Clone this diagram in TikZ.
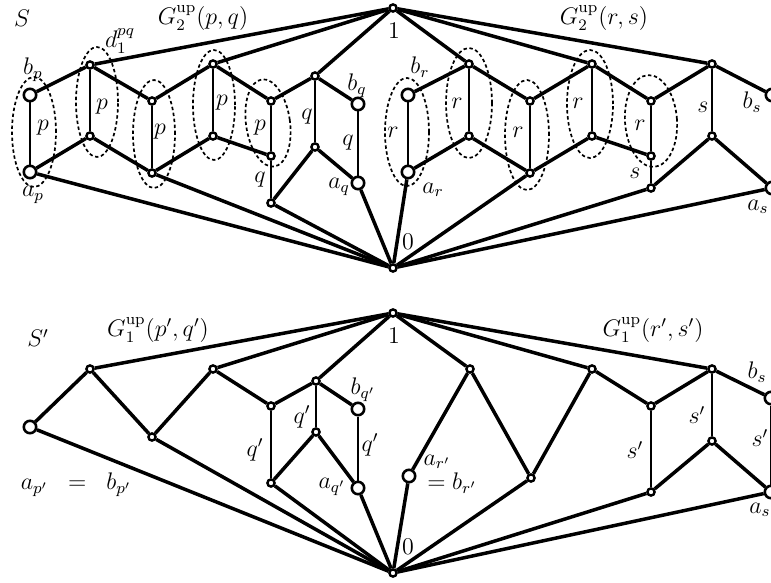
\documentclass[tikz,border=0pt]{standalone}
\usepackage{amsmath}
\begin{document}
\begin{tikzpicture}[x=0.5pt,y=-0.5pt,
  v/.style={circle,draw,fill=white,line width=1.2pt,inner sep=0pt,minimum size=3.6pt},
  V/.style={circle,draw,fill=white,line width=1.3pt,inner sep=0pt,minimum size=6.2pt},
  thk/.style={line width=1.75pt},
  thn/.style={line width=0.8pt},
  ell/.style={line width=0.85pt,dash pattern=on 1.7pt off 1.3pt},
  lab/.style={inner sep=0pt,font=\fontsize{12}{14}\selectfont}
]
\useasboundingbox (0,0) rectangle (771,583);
% ---------- dotted ellipses (top) ----------
\draw[ell] (34,132) ellipse [x radius=11pt, y radius=27.5pt];
\draw[ell] (97,102) ellipse [x radius=10.5pt, y radius=27.5pt];
\draw[ell] (154,134) ellipse [x radius=10.5pt, y radius=27pt];
\draw[ell] (214,105) ellipse [x radius=10.5pt, y radius=27.5pt];
\draw[ell,rotate around={8:(268,123)}] (268,123) ellipse [x radius=11pt, y radius=22pt];
\draw[ell] (407,132) ellipse [x radius=11pt, y radius=27pt];
\draw[ell] (469,103) ellipse [x radius=11.5pt, y radius=27.5pt];
\draw[ell] (527,135) ellipse [x radius=11pt, y radius=27.5pt];
\draw[ell] (590,104) ellipse [x radius=11.5pt, y radius=27pt];
\draw[ell,rotate around={4:(651,121)}] (651,121) ellipse [x radius=13pt, y radius=23pt];
% ---------- top vertices ----------
\node[v] (t1) at (393,8) {};
\node[v] (t0) at (393,268) {};
\node[V] (bp) at (30,95) {};
\node[V] (ap) at (30,172) {};
\node[v] (d1) at (90,65) {};
\node[v] (p1b) at (90,136) {};
\node[v] (p2t) at (152,101) {};
\node[v] (p2b) at (152,173) {};
\node[v] (p3t) at (213,64) {};
\node[v] (p3b) at (213,136) {};
\node[v] (p4t) at (271,101) {};
\node[v] (p4b) at (271,156) {};
\node[v] (q1) at (271,203) {};
\node[v] (qt) at (315,76) {};
\node[v] (qb) at (315,147) {};
\node[V] (bq) at (358,104) {};
\node[V] (aq) at (358,183) {};
\node[V] (br) at (408,95) {};
\node[V] (ar) at (408,172) {};
\node[v] (r2t) at (469,64) {};
\node[v] (r2b) at (469,136) {};
\node[v] (r3t) at (530,101) {};
\node[v] (r3b) at (530,173) {};
\node[v] (r4t) at (592,64) {};
\node[v] (r4b) at (592,136) {};
\node[v] (r5t) at (651,101) {};
\node[v] (r5b) at (651,156) {};
\node[v] (s1) at (651,188) {};
\node[v] (st) at (712,64) {};
\node[v] (sb) at (712,136) {};
\node[V] (bsT) at (772,95) {};
\node[V] (asT) at (772,188) {};
% top edges
\draw[thk] (bp) -- (d1) -- (p2t) -- (p3t) -- (p4t) -- (qt) -- (bq);
\draw[thk] (ap) -- (p1b) -- (p2b) -- (p3b) -- (p4b);
\draw[thk] (qt) -- (t1);
\draw[thk] (d1) -- (t1);
\draw[thk] (p3t) -- (t1);
\draw[thk] (qb) -- (aq);
\draw[thk] (qb) -- (q1);
\draw[thk] (ap) -- (t0);
\draw[thk] (p2b) -- (t0);
\draw[thk] (q1) -- (t0);
\draw[thk] (aq) -- (t0);
\draw[thn] (bp) -- (ap);
\draw[thn] (d1) -- (p1b);
\draw[thn] (p2t) -- (p2b);
\draw[thn] (p3t) -- (p3b);
\draw[thn] (p4t) -- (p4b);
\draw[thn] (p4b) -- (q1);
\draw[thn] (qt) -- (qb);
\draw[thn] (bq) -- (aq);
\draw[thk] (t1) -- (r2t);
\draw[thk] (br) -- (r2t) -- (r3t) -- (r4t) -- (r5t) -- (st) -- (bsT);
\draw[thk] (ar) -- (r2b) -- (r3b) -- (r4b) -- (r5b);
\draw[thk] (r4t) -- (t1);
\draw[thk] (st) -- (t1);
\draw[thk] (sb) -- (s1);
\draw[thk] (sb) -- (asT);
\draw[thk] (ar) -- (t0);
\draw[thk] (r3b) -- (t0);
\draw[thk] (s1) -- (t0);
\draw[thk] (asT) -- (t0);
\draw[thn] (br) -- (ar);
\draw[thn] (r2t) -- (r2b);
\draw[thn] (r3t) -- (r3b);
\draw[thn] (r4t) -- (r4b);
\draw[thn] (r5t) -- (r5b);
\draw[thn] (r5b) -- (s1);
\draw[thn] (st) -- (sb);
\draw[thn] (bsT) -- (asT);
% top labels
\node[lab] (lS) at (22,18) {$S$};
\node[lab] (lG1) at (203,18) {$G_2^{\mathrm{up}}(p,q)$};
\node[lab] (lG2) at (604,18) {$G_2^{\mathrm{up}}(r,s)$};
\node[lab] (l1) at (394,31) {$1$};
\node[lab] (l0) at (408,242) {$0$};
\node[lab] (ld) at (120,41) {$d_1^{pq}$};
\node[lab] (lbp) at (33,70) {$b_p$};
\node[lab] (lap) at (33,195) {$a_p$};
\node[lab] (lbq) at (357,86) {$b_q$};
\node[lab] (laq) at (339,187) {$a_q$};
\node[lab] (lbr) at (420,67) {$b_r$};
\node[lab] (lar) at (433,190) {$a_r$};
\node[lab] (lbs) at (752,102) {$b_s$};
\node[lab] (las) at (758,207) {$a_s$};
\node[lab] at (43,128) {$p$};
\node[lab] at (102,107) {$p$};
\node[lab] at (160,132) {$p$};
\node[lab] at (222,103) {$p$};
\node[lab] at (260,128) {$p$};
\node[lab] at (260,180) {$q$};
\node[lab] at (307,117) {$q$};
\node[lab] at (348,143) {$q$};
\node[lab] at (393,132) {$r$};
\node[lab] at (457,103) {$r$};
\node[lab] at (518,132) {$r$};
\node[lab] at (578,103) {$r$};
\node[lab] at (640,125) {$r$};
\node[lab] at (635,173) {$s$};
\node[lab] at (703,107) {$s$};
% ---------- bottom vertices ----------
\node[v] (B1) at (393,313) {};
\node[v] (B0) at (393,573) {};
\node[V] (apb) at (30,427) {};
\node[v] (u1) at (90,369) {};
\node[v] (u2) at (152,437) {};
\node[v] (u3) at (213,369) {};
\node[v] (u4t) at (271,406) {};
\node[v] (u4b) at (271,483) {};
\node[v] (vt) at (316,381) {};
\node[v] (vb) at (316,432) {};
\node[V] (bqp) at (358,409) {};
\node[V] (aqp) at (358,488) {};
\node[V] (arp) at (409,476) {};
\node[v] (w1) at (470,369) {};
\node[v] (w2) at (531,478) {};
\node[v] (w3) at (592,369) {};
\node[v] (x4t) at (651,406) {};
\node[v] (x4b) at (651,492) {};
\node[v] (yt) at (712,369) {};
\node[v] (yb) at (712,441) {};
\node[V] (bsB) at (771,398) {};
\node[V] (asB) at (771,492) {};
% bottom edges
\draw[thk] (apb) -- (u1) -- (u2) -- (u3) -- (u4t) -- (vt) -- (bqp);
\draw[thk] (u1) -- (B1);
\draw[thk] (u3) -- (B1);
\draw[thk] (vt) -- (B1);
\draw[thk] (vb) -- (u4b);
\draw[thk] (vb) -- (aqp);
\draw[thk] (apb) -- (B0);
\draw[thk] (u2) -- (B0);
\draw[thk] (u4b) -- (B0);
\draw[thk] (aqp) -- (B0);
\draw[thn] (u4t) -- (u4b);
\draw[thn] (vt) -- (vb);
\draw[thn] (bqp) -- (aqp);
\draw[thk] (B0) -- (arp) -- (w1) -- (B1);
\draw[thk] (w1) -- (w2) -- (w3) -- (B1);
\draw[thk] (w2) -- (B0);
\draw[thk] (w3) -- (x4t) -- (yt) -- (bsB);
\draw[thk] (yt) -- (B1);
\draw[thk] (yb) -- (x4b);
\draw[thk] (yb) -- (asB);
\draw[thk] (x4b) -- (B0);
\draw[thk] (asB) -- (B0);
\draw[thn] (x4t) -- (x4b);
\draw[thn] (yt) -- (yb);
\draw[thn] (bsB) -- (asB);
% bottom labels
\node[lab] (lS2) at (38,338) {$S'$};
\node[lab] (lG3) at (158,330) {$G_1^{\mathrm{up}}(p',q')$};
\node[lab] (lG4) at (653,330) {$G_1^{\mathrm{up}}(r',s')$};
\node[lab] (lB1) at (394,336) {$1$};
\node[lab] (lB0) at (408,547) {$0$};
\node[lab] (lapb) at (76,485) {$a_{p'}\;\;=\;\;b_{p'}$};
\node[lab] at (302,417) {$q'$};
\node[lab] at (255,450) {$q'$};
\node[lab] at (370,445) {$q'$};
\node[lab] (lbqp) at (363,390) {$b_{q'}$};
\node[lab] (laqp) at (332,487) {$a_{q'}$};
\node[lab] (larp) at (437,462) {$a_{r'}$};
\node[lab] (lbrp) at (452,483) {$=b_{r'}$};
\node[lab] at (697,415) {$s'$};
\node[lab] at (635,450) {$s'$};
\node[lab] at (760,438) {$s'$};
\node[lab] (lbsB) at (757,372) {$b_s$};
\node[lab] (lasB) at (760,510) {$a_s$};
\end{tikzpicture}
\end{document}
